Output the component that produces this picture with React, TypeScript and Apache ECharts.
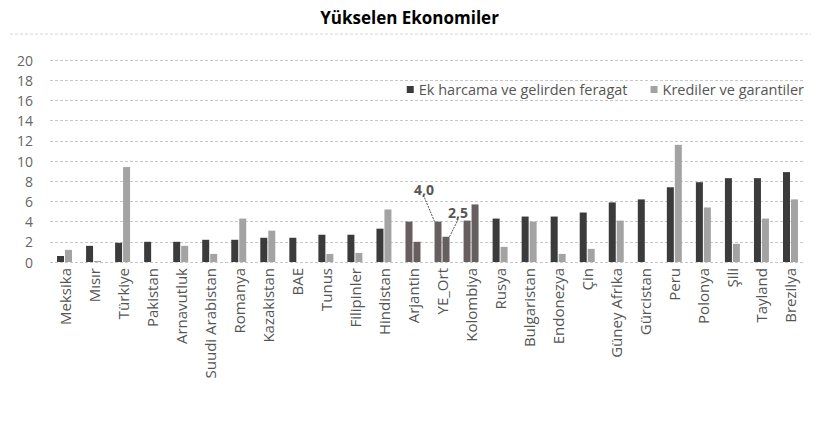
import React, { useEffect, useRef } from "react";
import * as echarts from "echarts";

const categories = [
  "Meksika", "Mısır", "Türkiye", "Pakistan", "Arnavutluk", "Suudi Arabistan",
  "Romanya", "Kazakistan", "BAE", "Tunus", "Filipinler", "Hindistan",
  "Arjantin", "YE_Ort", "Kolombiya", "Rusya", "Bulgaristan", "Endonezya",
  "Çin", "Güney Afrika", "Gürcistan", "Peru", "Polonya", "Şili", "Tayland", "Brezilya",
];
const harcama = [0.6, 1.6, 1.9, 2.0, 2.0, 2.2, 2.2, 2.4, 2.4, 2.7, 2.7, 3.3, 4.0, 4.0, 4.1, 4.3, 4.5, 4.5, 4.9, 5.9, 6.2, 7.4, 7.9, 8.3, 8.3, 8.9];
const krediler = [1.2, 0.1, 9.4, 0, 1.6, 0.8, 4.3, 3.1, 0, 0.8, 0.9, 5.2, 2.0, 2.5, 5.7, 1.5, 4.0, 0.8, 1.3, 4.1, 0, 11.6, 5.4, 1.8, 4.3, 6.2];
const highlighted = ["Arjantin", "YE_Ort", "Kolombiya"];
const annotated = "YE_Ort";
const yTicks = { min: 0, max: 20, interval: 2 };

const FONT = "'Open Sans', sans-serif";
const DARK = "#3b3b3b";
const LIGHT = "#a3a3a3";
const HL = "#675f5f";

export default function App() {
  const ref = useRef<HTMLDivElement>(null);
  useEffect(() => {
    if (!ref.current) return;
    const chart = echarts.init(ref.current, null, { renderer: "svg" });
    const mk = (vals: number[]) =>
      vals.map((v, i) => {
        const item: any = { value: v };
        if (highlighted.includes(categories[i])) item.itemStyle = { color: HL };
        if (categories[i] === annotated) {
          item.label = {
            show: true,
            position: "top",
            formatter: (p: any) => String(p.value.toFixed(1)).replace(".", ","),
            color: "#555",
            fontSize: 14,
            fontWeight: "bold",
            fontFamily: FONT,
          };
          item.labelLine = { show: true, lineStyle: { color: "#555", width: 1, type: [2, 1] } };
        }
        return item;
      });
    chart.setOption({
      animation: false,
      title: {
        text: "Yükselen Ekonomiler",
        left: "center",
        top: 4,
        textStyle: { fontFamily: FONT, fontSize: 17, fontWeight: "bold", color: "#000" },
      },
      graphic: [
        {
          type: "rect",
          shape: { x: 5, y: 34, width: 808, height: 390 },
          style: { fill: "none", stroke: "#d4d4d4", lineWidth: 1, lineDash: [3, 2] },
          silent: true,
        },
      ],
      legend: {
        right: 10,
        top: 77,
        itemWidth: 7,
        itemHeight: 7,
        itemGap: 23,
        icon: "rect",
        textStyle: { fontFamily: FONT, fontSize: 14.5, color: "#555" },
        data: ["Ek harcama ve gelirden feragat", "Krediler ve garantiler"],
      },
      grid: { left: 50, right: 14, top: 60, bottom: 166 },
      xAxis: {
        type: "category",
        data: categories,
        axisLine: { show: false },
        axisTick: { show: false },
        axisLabel: {
          rotate: 90,
          interval: 0,
          margin: 6,
          fontFamily: FONT,
          fontSize: 15,
          color: "#555",
        },
      },
      yAxis: {
        type: "value",
        min: yTicks.min,
        max: yTicks.max,
        interval: yTicks.interval,
        axisLine: { show: false },
        axisTick: { show: false },
        axisLabel: { fontFamily: FONT, fontSize: 14, color: "#666", margin: 17 },
        splitLine: { lineStyle: { color: "#c8c8c8", type: [3, 2] } },
      },
      series: [
        {
          name: "Ek harcama ve gelirden feragat",
          type: "bar",
          barWidth: 7,
          barGap: "14%",
          itemStyle: { color: DARK },
          data: mk(harcama),
          labelLayout: (p: any) => (categories[p.dataIndex] === annotated ? { dx: -14, dy: -20 } : {}),
        },
        {
          name: "Krediler ve garantiler",
          type: "bar",
          barWidth: 7,
          barGap: "14%",
          itemStyle: { color: LIGHT },
          data: mk(krediler),
          labelLayout: (p: any) => (categories[p.dataIndex] === annotated ? { dx: 12, dy: -12 } : {}),
        },
      ],
    });
    return () => chart.dispose();
  }, []);
  return <div ref={ref} style={{ width: 819, height: 428, margin: -8 }} />;
}
